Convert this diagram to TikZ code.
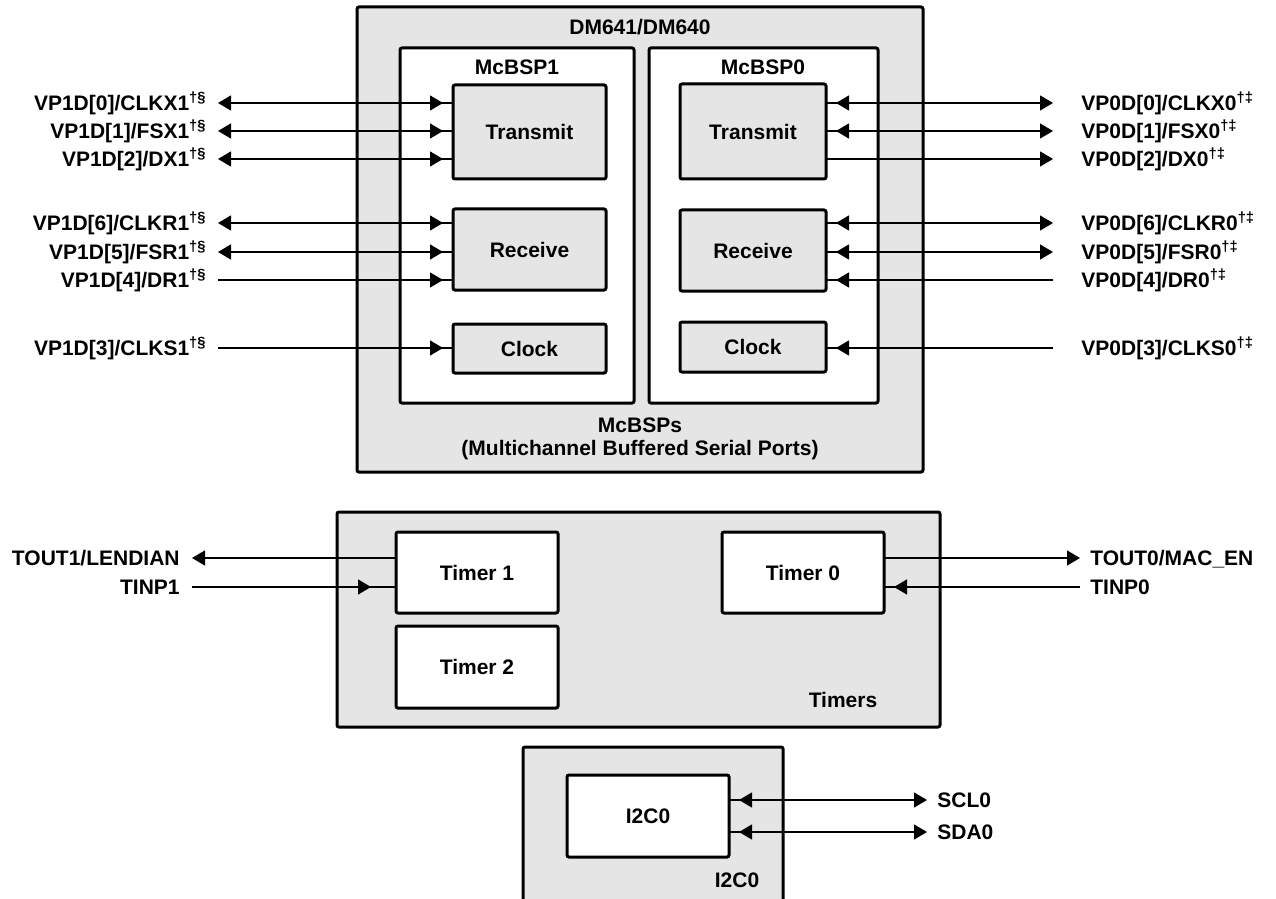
\documentclass[tikz,border=0pt]{standalone}
\usepackage{fontspec}
\setmainfont{Liberation Sans}
\usetikzlibrary{arrows.meta,decorations.markings}

\definecolor{chipgray}{gray}{0.9}
\newcommand\dagsec{\textsuperscript{†§}}
\newcommand\dagdbl{\textsuperscript{†‡}}

\tikzset{
	txt/.style={font=\fontsize{10.5}{12}\selectfont\bfseries},
	blk/.style={txt,draw,line width=1.5pt,rounded corners=1pt,inner sep=0pt,outer sep=0pt,anchor=north west},
	graybk/.style={blk,fill=chipgray},
	whitebk/.style={blk,fill=white},
	pin/.style={txt,inner sep=0pt,text height=7.5pt,text depth=0pt},
	sig/.style={line width=0.65pt},
	headout/.style={arrows={Triangle[length=6.5pt,width=7.5pt]-}},
	headin/.style={postaction={decorate},decoration={markings,
			mark=at position -#1 with {\arrow{Triangle[length=6.5pt,width=7.5pt]}}}},
	headin/.default=5pt,
	bidir/.style={headout,headin},
}

\begin{document}
\begin{tikzpicture}[x=0.5pt,y=-0.5pt]
	\useasboundingbox (0,0) rectangle (1276,899);
	% McBSPs
	\node[graybk,minimum width=283pt,minimum height=232.5pt] (dm) at (357,7) {};
	\node[pin] (dmname) at (640,27) {DM641/DM640};
	\node[whitebk,minimum width=117pt,minimum height=177.5pt] (mc1) at (400,48) {};
	\node[whitebk,minimum width=114.5pt,minimum height=177.5pt] (mc0) at (649,48) {};
	\node[pin] (mc1name) at (517,67) {McBSP1};
	\node[pin] (mc0name) at (763,67) {McBSP0};
	\node[graybk,minimum width=76.5pt,minimum height=47pt] (tx1) at (453,85) {Transmit};
	\node[graybk,minimum width=76.5pt,minimum height=40.5pt] (rx1) at (453,209) {Receive};
	\node[graybk,minimum width=76.5pt,minimum height=24.5pt] (ck1) at (453,324) {Clock};
	\node[graybk,minimum width=73pt,minimum height=47.5pt] (tx0) at (680,84) {Transmit};
	\node[graybk,minimum width=73pt,minimum height=40.5pt] (rx0) at (680,210) {Receive};
	\node[graybk,minimum width=73pt,minimum height=25pt] (ck0) at (680,322) {Clock};
	\node[pin] (mcname) at (640,425) {McBSPs};
	\node[pin] (mclong) at (640,448) {(Multichannel Buffered Serial Ports)};
	\foreach \n/\y/\t/\b/\k in {clkx1/103/{VP1D[0]/CLKX1}/tx1/bidir,fsx1/131/{VP1D[1]/FSX1}/tx1/bidir,
		dx1/159/{VP1D[2]/DX1}/tx1/bidir,clkr1/223/{VP1D[6]/CLKR1}/rx1/bidir,
		fsr1/252/{VP1D[5]/FSR1}/rx1/bidir,dr1/280/{VP1D[4]/DR1}/rx1/headin,
		clks1/348/{VP1D[3]/CLKS1}/ck1/headin} {
		\node[pin,anchor=east] (\n) at (207,\y) {\t\dagsec};
		\draw[sig,\k] ([xshift=5.5pt]\n.east) -- (\b.west |- \n.east);
	}
	\foreach \n/\y/\t/\b/\k in {clkx0/103/{VP0D[0]/CLKX0}/tx0/bidir,fsx0/131/{VP0D[1]/FSX0}/tx0/bidir,
		dx0/159/{VP0D[2]/DX0}/tx0/headout,clkr0/223/{VP0D[6]/CLKR0}/rx0/bidir,
		fsr0/252/{VP0D[5]/FSR0}/rx0/bidir,dr0/280/{VP0D[4]/DR0}/rx0/headin,
		clks0/348/{VP0D[3]/CLKS0}/ck0/headin} {
		\node[pin,anchor=west] (\n) at (1081,\y) {\t\dagdbl};
		\draw[sig,\k] ([xshift=-14pt]\n.west) -- (\b.east |- \n.west);
	}
	% Timers
	\node[graybk,minimum width=301.5pt,minimum height=107.5pt] (tmr) at (337,512) {};
	\node[whitebk,minimum width=81pt,minimum height=40.5pt] (t1) at (396,532) {Timer 1};
	\node[whitebk,minimum width=81pt,minimum height=41pt] (t2) at (396,626) {Timer 2};
	\node[whitebk,minimum width=81pt,minimum height=40.5pt] (t0) at (722,532) {Timer 0};
	\node[pin] (tmrname) at (843,700) {Timers};
	\node[pin,anchor=east] (tout1) at (180,558) {TOUT1/LENDIAN};
	\node[pin,anchor=east] (tinp1) at (180,587) {TINP1};
	\draw[sig,headout] ([xshift=6pt]tout1.east) -- (t1.west |- tout1.east);
	\draw[sig,headin=12.5pt] ([xshift=6pt]tinp1.east) -- (t1.west |- tinp1.east);
	\node[pin,anchor=west] (tout0) at (1090,558) {TOUT0/MAC\_EN};
	\node[pin,anchor=west] (tinp0) at (1090,587) {TINP0};
	\draw[sig,headout] ([xshift=-5pt]tout0.west) -- (t0.east |- tout0.west);
	\draw[sig,headin] ([xshift=-5pt]tinp0.west) -- (t0.east |- tinp0.west);
	% I2C
	\fill[chipgray] (523,747) rectangle (783,903);
	\draw[line width=1.5pt,rounded corners=1pt] (523,903) |- (783,747) -- (783,903);
	\node[whitebk,minimum width=81pt,minimum height=41pt] (i2c) at (567,775) {I2C0};
	\node[pin] (i2cname) at (737,880) {I2C0};
	\node[pin,anchor=west] (scl) at (937,800) {SCL0};
	\node[pin,anchor=west] (sda) at (937,832) {SDA0};
	\draw[sig,bidir] ([xshift=-5pt]scl.west) -- (i2c.east |- scl.west);
	\draw[sig,bidir] ([xshift=-5pt]sda.west) -- (i2c.east |- sda.west);
\end{tikzpicture}
\end{document}
